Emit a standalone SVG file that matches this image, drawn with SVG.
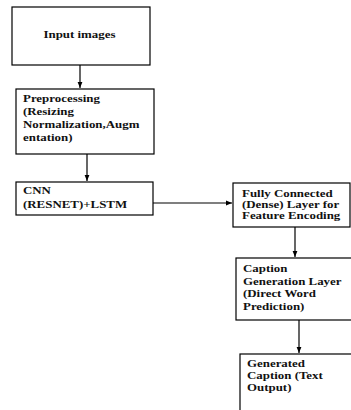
<svg xmlns="http://www.w3.org/2000/svg" width="351" height="410" viewBox="0 0 351 410">
<style>
.box{fill:#fff;stroke:#000;stroke-width:1.2}
.t{font-family:"Liberation Serif","Times New Roman",serif;font-weight:bold;font-size:10.5px;fill:#111}
.c{fill:none;stroke:#000;stroke-width:1.2}
</style>
<defs>
<marker id="ah" viewBox="0 0 10 10" refX="10" refY="5" markerWidth="6" markerHeight="6" orient="auto" markerUnits="userSpaceOnUse">
<path d="M0,1 L10,5 L0,9 z" fill="#000"/>
</marker>
</defs>
<rect width="351" height="410" fill="#fff"/>
<g id="connectors">
<line class="c" x1="80" y1="65" x2="80" y2="88" marker-end="url(#ah)"/>
<line class="c" x1="87" y1="154" x2="87" y2="181" marker-end="url(#ah)"/>
<line class="c" x1="153" y1="203" x2="232" y2="203" marker-end="url(#ah)"/>
<line class="c" x1="295" y1="227" x2="295" y2="257" marker-end="url(#ah)"/>
<line class="c" x1="299" y1="320" x2="299" y2="353" marker-end="url(#ah)"/>
</g>
<g id="input">
<rect class="box" x="12" y="7" width="138" height="58"/>
<g transform="translate(79.5,0) scale(1.23,1)">
<text class="t" x="0" y="38" text-anchor="middle">Input images</text>
</g>
</g>
<g id="preprocessing">
<rect class="box" x="16" y="89" width="138" height="65"/>
<g transform="translate(23,0) scale(1.23,1)">
<text class="t" x="0" y="102">Preprocessing</text>
<text class="t" x="0" y="115">(Resizing</text>
<text class="t" x="0" y="128">Normalization,Augm</text>
<text class="t" x="0" y="141">entation)</text>
</g>
</g>
<g id="cnn">
<rect class="box" x="16" y="182" width="137" height="33"/>
<g transform="translate(23,0) scale(1.23,1)">
<text class="t" x="0" y="194">CNN</text>
<text class="t" x="0" y="208">(RESNET)+LSTM</text>
</g>
</g>
<g id="dense">
<rect class="box" x="233" y="183" width="117" height="44"/>
<g transform="translate(242,0) scale(1.23,1)">
<text class="t" x="0" y="197">Fully Connected</text>
<text class="t" x="0" y="208">(Dense) Layer for</text>
<text class="t" x="0" y="219">Feature Encoding</text>
</g>
</g>
<g id="caption-gen">
<rect class="box" x="236" y="258" width="120" height="62"/>
<g transform="translate(243,0) scale(1.23,1)">
<text class="t" x="0" y="272">Caption</text>
<text class="t" x="0" y="285">Generation Layer</text>
<text class="t" x="0" y="297">(Direct Word</text>
<text class="t" x="0" y="310">Prediction)</text>
</g>
</g>
<g id="output">
<rect class="box" x="240" y="354" width="120" height="70"/>
<g transform="translate(247,0) scale(1.23,1)">
<text class="t" x="0" y="367">Generated</text>
<text class="t" x="0" y="379">Caption (Text</text>
<text class="t" x="0" y="391">Output)</text>
</g>
</g>
</svg>
